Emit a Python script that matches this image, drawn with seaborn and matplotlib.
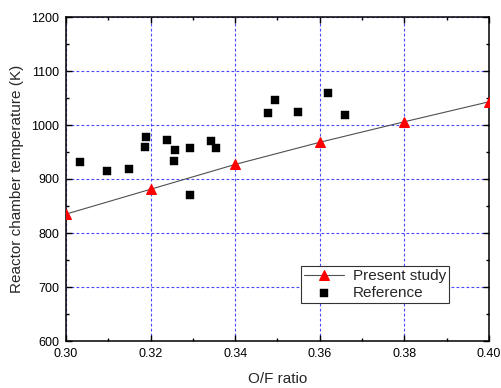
import matplotlib
matplotlib.use("Agg")
import matplotlib.pyplot as plt
import seaborn as sns
import pandas as pd
from matplotlib.ticker import MultipleLocator

# Data
present_of = [0.30, 0.32, 0.34, 0.36, 0.38, 0.40]
present_temp = [835, 881, 927, 968, 1006, 1043]

ref_of = [0.3034, 0.3096, 0.3150, 0.3188, 0.3187, 0.3238, 0.3257, 0.3256, 0.3292,
          0.3294, 0.3342, 0.3355, 0.3478, 0.3493, 0.3548, 0.3620, 0.3660]
ref_temp = [932, 915, 918, 978, 959, 972, 954, 933, 957,
            870, 971, 957, 1022, 1047, 1025, 1060, 1019]

xticks = [0.30, 0.32, 0.34, 0.36, 0.38, 0.40]
yticks = [600, 700, 800, 900, 1000, 1100, 1200]

sns.set_theme(style="white")
plt.rcParams['font.family'] = ['Liberation Sans', 'DejaVu Sans']

df_p = pd.DataFrame({"of": present_of, "T": present_temp})
df_r = pd.DataFrame({"of": ref_of, "T": ref_temp})

fig = plt.figure(figsize=(5.01, 3.88), dpi=100)
ax = fig.add_axes([66/501, 1-341/388, 423/501, 324/388])

sns.lineplot(data=df_p, x="of", y="T", ax=ax, color="#505050", linewidth=0.8,
             marker="^", markersize=7, markerfacecolor="red", markeredgecolor="red",
             label="Present study", zorder=4)
sns.scatterplot(data=df_r, x="of", y="T", ax=ax, marker="s", s=26, color="black",
                edgecolor="black", linewidth=0.3, label="Reference", zorder=3)

ax.set_xlim(0.30, 0.40)
ax.set_ylim(600, 1200)
ax.set_xticks(xticks)
ax.set_xticklabels([f"{v:.2f}" for v in xticks])
ax.set_yticks(yticks)
ax.set_yticklabels([str(v) for v in yticks])
ax.xaxis.set_minor_locator(MultipleLocator(0.01))
ax.yaxis.set_minor_locator(MultipleLocator(50))
ax.tick_params(which="both", direction="in", top=True, right=True, bottom=True, left=True,
               labelsize=9, colors="black", width=1.0)
ax.tick_params(which="major", length=4, pad=5)
ax.tick_params(which="minor", length=2.5)
for sp in ax.spines.values():
    sp.set_color("black")
    sp.set_linewidth(1.1)

ax.grid(True, which="major", color="#4848ff", linestyle=(0, (2.5, 2)), linewidth=0.8)
ax.set_axisbelow(True)

ax.set_xlabel("O/F ratio", fontsize=11, labelpad=9)
ax.set_ylabel("Reactor chamber temperature (K)", fontsize=11, labelpad=5)

leg = ax.legend(loc="lower left", bbox_to_anchor=(0.555, 0.116), fontsize=11,
                frameon=True, fancybox=False, edgecolor="#333333", framealpha=1,
                borderpad=0.2, labelspacing=0.2, handlelength=2.6, handletextpad=0.6,
                borderaxespad=0)
leg.get_frame().set_linewidth(0.8)

fig.savefig("out.png", dpi=100)
